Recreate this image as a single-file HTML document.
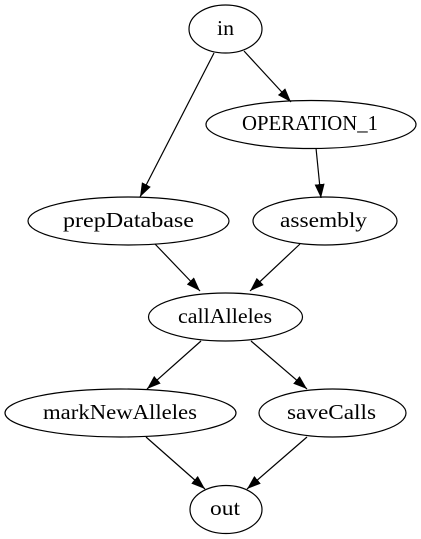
<!DOCTYPE html>
<html><head><style>
html,body{margin:0;padding:0;background:#fff;}
svg{display:block;}
text{font-family:"Liberation Serif",serif;font-size:21px;fill:#000;text-anchor:middle;}
</style></head><body>
<svg width="421" height="539" viewBox="0 0 421 539" xmlns="http://www.w3.org/2000/svg">
<defs>
<marker id="a" viewBox="0 0 14 10" refX="14" refY="5" markerWidth="14" markerHeight="10" markerUnits="userSpaceOnUse" orient="auto">
<path d="M0,0 L14,5 L0,10 Z" fill="#000"/>
</marker>
</defs>
<g fill="none" stroke="#000" stroke-width="1.2">
<ellipse cx="225.5" cy="29" rx="36.5" ry="24"/>
<ellipse cx="311" cy="124.5" rx="105" ry="24"/>
<ellipse cx="128.5" cy="221" rx="100.5" ry="24"/>
<ellipse cx="325" cy="221" rx="72" ry="24"/>
<ellipse cx="225.5" cy="317" rx="77" ry="24"/>
<ellipse cx="120.5" cy="413" rx="115.5" ry="24"/>
<ellipse cx="332.5" cy="413" rx="73.5" ry="24"/>
<ellipse cx="226" cy="509.5" rx="36" ry="24"/>
<line x1="214" y1="53" x2="140" y2="197" marker-end="url(#a)"/>
<line x1="244" y1="51" x2="291" y2="102" marker-end="url(#a)"/>
<line x1="316" y1="148" x2="321" y2="198" marker-end="url(#a)"/>
<line x1="155" y1="244" x2="200" y2="291" marker-end="url(#a)"/>
<line x1="300" y1="244" x2="250" y2="291" marker-end="url(#a)"/>
<line x1="201" y1="341" x2="147" y2="389" marker-end="url(#a)"/>
<line x1="251" y1="341" x2="307" y2="389" marker-end="url(#a)"/>
<line x1="146" y1="437" x2="205" y2="489" marker-end="url(#a)"/>
<line x1="307" y1="437" x2="247" y2="489" marker-end="url(#a)"/>
</g>
<text x="225.5" y="35" textLength="17" lengthAdjust="spacingAndGlyphs">in</text>
<text x="310" y="130" textLength="136" lengthAdjust="spacingAndGlyphs">OPERATION_1</text>
<text x="128.5" y="227" textLength="131" lengthAdjust="spacingAndGlyphs">prepDatabase</text>
<text x="323.5" y="227" textLength="87" lengthAdjust="spacingAndGlyphs">assembly</text>
<text x="225" y="323" textLength="94" lengthAdjust="spacingAndGlyphs">callAlleles</text>
<text x="120" y="419" textLength="154" lengthAdjust="spacingAndGlyphs">markNewAlleles</text>
<text x="331.5" y="419" textLength="89" lengthAdjust="spacingAndGlyphs">saveCalls</text>
<text x="225" y="515" textLength="30" lengthAdjust="spacingAndGlyphs">out</text>
</svg>
</body></html>
